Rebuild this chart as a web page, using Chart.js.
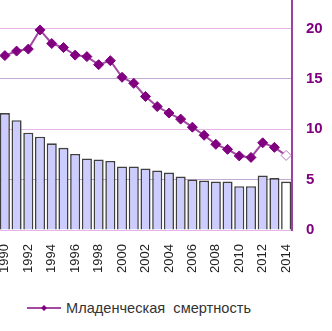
<!DOCTYPE html>
<html>
<head>
<meta charset="utf-8">
<script src="https://cdn.jsdelivr.net/npm/chart.js@4/dist/chart.umd.min.js"></script>
<style>
  html, body { margin: 0; padding: 0; background: #fff; }
  body { width: 332px; height: 331px; overflow: hidden; position: relative; font-family: Arial, "Liberation Sans", sans-serif; }
  #wrap { position: absolute; left: -20px; top: -45px; width: 352px; height: 325px; }
  #legend { position: absolute; left: 27px; top: 299px; height: 18px; display: flex; align-items: center; }
  #legend span { font-size: 14.6px; color: #333; margin-left: 5px; white-space: pre; }
</style>
</head>
<body>
<div id="wrap"><canvas id="chart"></canvas></div>
<div id="legend"><canvas id="sample" width="34" height="12"></canvas><span>Младенческая  смертность</span></div>
<script>
const years = ["1990", "1991", "1992", "1993", "1994", "1995", "1996", "1997", "1998", "1999",
  "2000", "2001", "2002", "2003", "2004", "2005", "2006", "2007", "2008", "2009",
  "2010", "2011", "2012", "2013", "2014"];
// bars (no label visible in the crop)
const barValues = [11.6, 10.9, 9.65, 9.25, 8.6, 8.15, 7.55, 7.1, 7.0, 6.85,
  6.3, 6.3, 6.1, 5.9, 5.7, 5.3, 5.0, 4.9, 4.8, 4.8,
  4.35, 4.35, 5.4, 5.15, 4.8];
const mortality = [17.3, 17.75, 17.95, 19.85, 18.5, 18.1, 17.35, 17.2, 16.4, 16.8,
  15.15, 14.55, 13.25, 12.25, 11.6, 11.0, 10.2, 9.4, 8.5, 8.0,
  7.35, 7.2, 8.65, 8.2, 7.4];
const legendLabel = "Младенческая смертность";
const yTicks = [0, 5, 10, 15, 20, 25];

const last = years.length - 1;

new Chart(document.getElementById("chart"), {
  data: {
    labels: years,
    datasets: [
      {
        type: "line",
        label: legendLabel,
        data: mortality,
        order: 0,
        borderColor: "#a24aa2",
        borderWidth: 2,
        pointStyle: "rectRot",
        pointRadius: 5,
        pointBorderWidth: 1,
        pointBackgroundColor: mortality.map((v, i) => (i === last ? "#fff" : "#800080")),
        pointBorderColor: mortality.map((v, i) => (i === last ? "#c070c0" : "#800080")),
      },
      {
        type: "bar",
        label: "",
        data: barValues,
        order: 1,
        backgroundColor: barValues.map((v, i) => (i === last ? "#fff" : "#ccccff")),
        borderColor: "#404040",
        borderWidth: 1.6,
        barPercentage: 0.86,
        categoryPercentage: 1,
      },
    ],
  },
  options: {
    responsive: true,
    maintainAspectRatio: false,
    animation: false,
    layout: { padding: { left: 19, top: 8, right: 0, bottom: 0 } },
    plugins: { legend: { display: false }, tooltip: { enabled: false } },
    scales: {
      x: {
        grid: { display: false },
        border: { display: false },
        afterFit: (s) => { s.height = 50; },
        ticks: {
          autoSkip: false,
          minRotation: 90,
          maxRotation: 90,
          padding: 6,
          color: "#222",
          font: { family: "Arial, Liberation Sans", size: 13 },
          callback: (v, i) => (i % 2 === 0 ? years[i] : ""),
        },
      },
      y: {
        position: "right",
        min: yTicks[0],
        max: yTicks[yTicks.length - 1],
        afterFit: (s) => { s.width = 40; },
        afterBuildTicks: (s) => { s.ticks = yTicks.map((v) => ({ value: v })); },
        border: { display: true, color: "#a040a0", width: 2 },
        grid: {
          drawTicks: false,
          color: (ctx) => (ctx.tick && ctx.tick.value % 10 === 0 ? "#e6b4e6" : "#c4aad2"),
        },
        ticks: {
          padding: 14,
          color: "#800080",
          font: { family: "Arial, Liberation Sans", size: 15, weight: "bold" },
        },
      },
    },
  },
});

// legend sample: line with a small diamond
const sc = document.getElementById("sample").getContext("2d");
sc.strokeStyle = "#a24aa2";
sc.lineWidth = 2;
sc.beginPath();
sc.moveTo(0, 6);
sc.lineTo(34, 6);
sc.stroke();
sc.fillStyle = "#800080";
sc.beginPath();
sc.moveTo(17, 3);
sc.lineTo(20, 6);
sc.lineTo(17, 9);
sc.lineTo(14, 6);
sc.closePath();
sc.fill();
</script>
</body>
</html>
